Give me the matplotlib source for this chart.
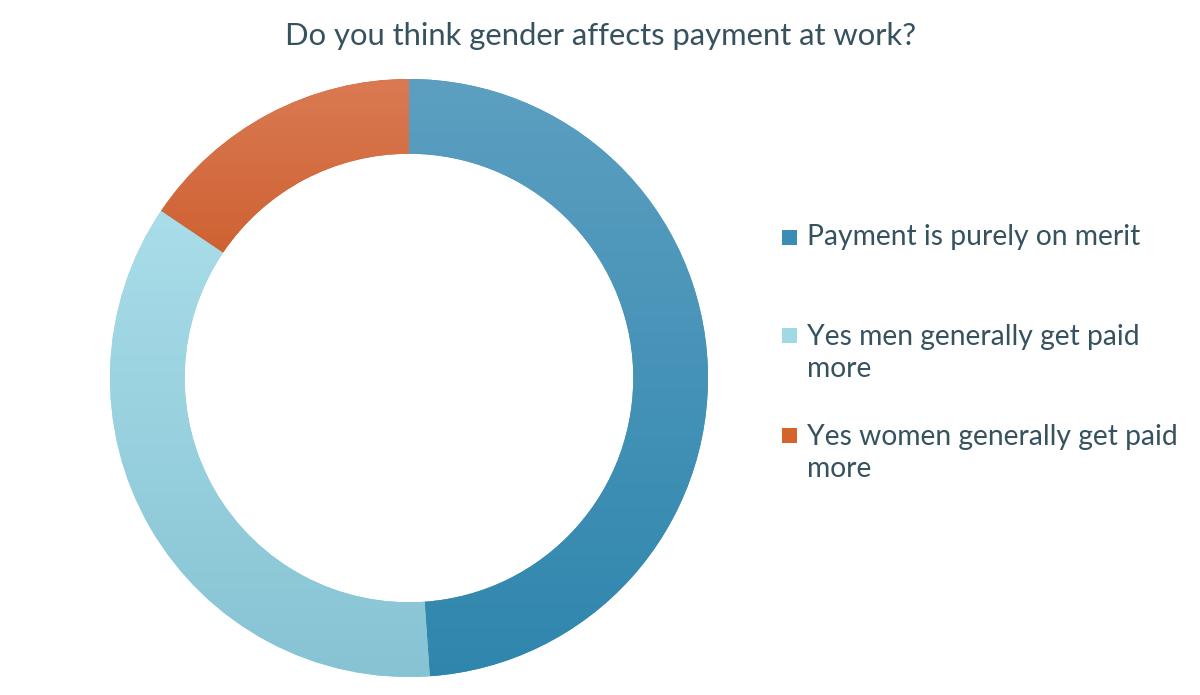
import matplotlib
matplotlib.use('Agg')
import matplotlib.pyplot as plt
import numpy as np
from matplotlib.colors import LinearSegmentedColormap
from matplotlib.patches import Rectangle

plt.rcParams['font.family'] = ['Lato', 'DejaVu Sans']

# Respostas (contagens)
categorias = ['Payment is purely on merit',
              'Yes men generally get paid\nmore',
              'Yes women generally get paid\nmore']
valores = [22, 16, 7]
cor_topo = ['#5c9fc1', '#a9dde9', '#da7a53']
cor_base = ['#2f86ad', '#86c3d3', '#c6501a']
cor_legenda = ['#3a8db5', '#a0d8e4', '#d5642c']

titulo = 'Do you think gender affects payment at work?'
cor_texto = '#36525f'

W, H = 1200, 695
fig = plt.figure(figsize=(W / 100, H / 100), dpi=100)

# anel centrado em (409, 378) px, raio externo ~299 px
cx, cy, R = 409, 378, 299
ax = fig.add_axes([(cx - R) / W, (H - cy - R) / H, 2 * R / W, 2 * R / H])
wedges, _ = ax.pie(valores, startangle=90, counterclock=False, radius=1,
                   colors=cor_legenda,
                   wedgeprops=dict(width=0.25, linewidth=0))

# gradiente vertical em cada fatia (como no Excel)
for w, c1, c2 in zip(wedges, cor_topo, cor_base):
    verts = w.get_patch_transform().transform(w.get_path().vertices)
    x0, x1 = verts[:, 0].min(), verts[:, 0].max()
    y0, y1 = verts[:, 1].min(), verts[:, 1].max()
    cmap = LinearSegmentedColormap.from_list('g', [c2, c1])
    grad = np.linspace(0, 1, 256).reshape(-1, 1)
    im = ax.imshow(grad, cmap=cmap, origin='lower', aspect='auto',
                   extent=[x0, x1, y0, y1], interpolation='bilinear', zorder=2)
    im.set_clip_path(w)
    w.set_facecolor(cmap(0.5))
ax.set_xlim(-1, 1)
ax.set_ylim(-1, 1)
ax.set_aspect('equal')
ax.axis('off')

fig.text(601 / W, 1 - 36 / H, titulo, ha='center', va='center',
         fontsize=22.3, color=cor_texto)

# legenda manual (marcador alinhado com a primeira linha)
primeira_linha = [237, 335, 435]
passo = 36
for nome, cor, y in zip(categorias, cor_legenda, primeira_linha):
    fig.patches.append(Rectangle((782 / W, 1 - (y + 8) / H), 15 / W, 15 / H,
                                 transform=fig.transFigure, facecolor=cor,
                                 edgecolor='none'))
    n = nome.count('\n')
    fig.text(807 / W, 1 - (y + n * passo / 2) / H, nome, ha='left', va='center',
             fontsize=20.3, color=cor_texto, linespacing=1.28)

fig.savefig('out.png', dpi=100, facecolor='white')
